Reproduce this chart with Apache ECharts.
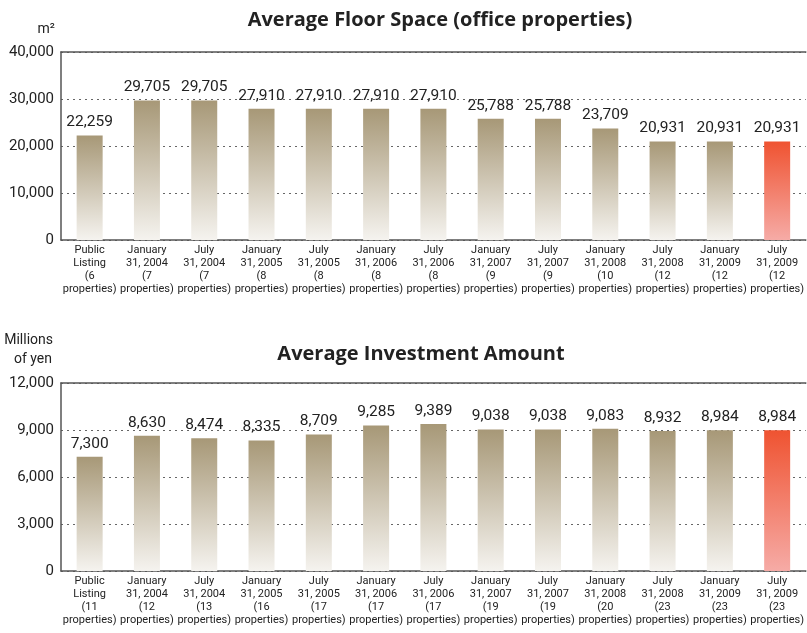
<!DOCTYPE html>
<html>
<head>
<meta charset="utf-8">
<script src="https://cdn.jsdelivr.net/npm/echarts@6/dist/echarts.min.js"></script>
<style>
  html, body { margin: 0; padding: 0; background: #fff; }
  #chart { width: 807px; height: 633px; }
</style>
</head>
<body>
<div id="chart"></div>
<script>
// period names (first line(s) of each axis label)
const periods = ['Public\nListing', 'January\n31, 2004', 'July\n31, 2004', 'January\n31, 2005', 'July\n31, 2005',
  'January\n31, 2006', 'July\n31, 2006', 'January\n31, 2007', 'July\n31, 2007', 'January\n31, 2008',
  'July\n31, 2008', 'January\n31, 2009', 'July\n31, 2009']
const floorCounts = [6, 7, 7, 8, 8, 8, 8, 9, 9, 10, 12, 12, 12]
const investCounts = [11, 12, 13, 16, 17, 17, 17, 19, 19, 20, 23, 23, 23]
const floorSpace = [22259, 29705, 29705, 27910, 27910, 27910, 27910, 25788, 25788, 23709, 20931, 20931, 20931]
const investAmount = [7300, 8630, 8474, 8335, 8709, 9285, 9389, 9038, 9038, 9083, 8932, 8984, 8984]
const floorTicks = [0, 10000, 20000, 30000, 40000]
const investTicks = [0, 3000, 6000, 9000, 12000]

const font = 'Roboto, "Liberation Sans", sans-serif'
const floorCats = periods.map((p, i) => p + '\n(' + floorCounts[i] + '\nproperties)')
const investCats = periods.map((p, i) => p + '\n(' + investCounts[i] + '\nproperties)')

const brown = new echarts.graphic.LinearGradient(0, 0, 0, 1, [
  { offset: 0, color: '#a79877' }, { offset: 1, color: '#f5f3ef' }])
const red = new echarts.graphic.LinearGradient(0, 0, 0, 1, [
  { offset: 0, color: '#ef5331' }, { offset: 1, color: '#f6aba6' }])

const barData = (vals) => vals.map((v, i) => ({
  value: v,
  itemStyle: { color: i === vals.length - 1 ? red : brown }
}))

const catAxis = (idx, cats) => ({
  type: 'category', gridIndex: idx, data: cats,
  axisLine: { lineStyle: { color: '#555', width: 1.5 } },
  axisTick: { show: false },
  axisLabel: { interval: 0, color: '#222', fontFamily: font, fontSize: 11, lineHeight: 13, margin: 4 }
})
const topAxis = (idx) => ({
  type: 'category', gridIndex: idx, position: 'top', data: [],
  axisLine: { show: true, lineStyle: { color: '#555', width: 1.5 } },
  axisTick: { show: false }, axisLabel: { show: false }
})
const valAxis = (idx, ticks) => ({
  type: 'value', gridIndex: idx, min: ticks[0], max: ticks[ticks.length - 1],
  interval: ticks[1] - ticks[0],
  axisLine: { show: true, lineStyle: { color: '#555', width: 1.5 } },
  axisTick: { show: false },
  splitLine: { lineStyle: { color: '#666', type: [2, 4], width: 1 } },
  axisLabel: {
    color: '#222', fontFamily: font, fontSize: 15, margin: 7,
    formatter: v => v.toLocaleString('en-US')
  }
})
const barSeries = (idx, vals) => ({
  type: 'bar', xAxisIndex: idx * 2, yAxisIndex: idx, barWidth: 26,
  data: barData(vals),
  label: {
    show: true, position: 'top', distance: 5, color: '#222', fontFamily: font, fontSize: 15.5,
    formatter: p => p.value.toLocaleString('en-US')
  }
})

const chart = echarts.init(document.getElementById('chart'))
chart.setOption({
  animation: false,
  title: [
    { text: 'Average Floor Space (office properties)', left: 435, top: 5, textAlign: 'center',
      textStyle: { fontFamily: '"Open Sans", sans-serif', fontWeight: 'bold', fontSize: 20, color: '#222' } },
    { text: 'Average Investment Amount', left: 416, top: 339, textAlign: 'center',
      textStyle: { fontFamily: '"Open Sans", sans-serif', fontWeight: 'bold', fontSize: 20, color: '#222' } }
  ],
  graphic: [
    { type: 'text', x: 55, y: 29, style: { text: 'm²', fontFamily: font, fontSize: 14, fill: '#222',
      align: 'right', verticalAlign: 'middle' } },
    { type: 'text', x: 53, y: 340, style: { text: 'Millions', fontFamily: font, fontSize: 14, fill: '#222',
      align: 'right', verticalAlign: 'middle' } },
    { type: 'text', x: 52, y: 359, style: { text: 'of yen', fontFamily: font, fontSize: 14, fill: '#222',
      align: 'right', verticalAlign: 'middle' } }
  ],
  grid: [
    { left: 61, right: 1, top: 52, height: 188 },
    { left: 61, right: 1, top: 383, height: 188 }
  ],
  xAxis: [catAxis(0, floorCats), topAxis(0), catAxis(1, investCats), topAxis(1)],
  yAxis: [valAxis(0, floorTicks), valAxis(1, investTicks)],
  series: [barSeries(0, floorSpace), barSeries(1, investAmount)]
})
</script>
</body>
</html>
